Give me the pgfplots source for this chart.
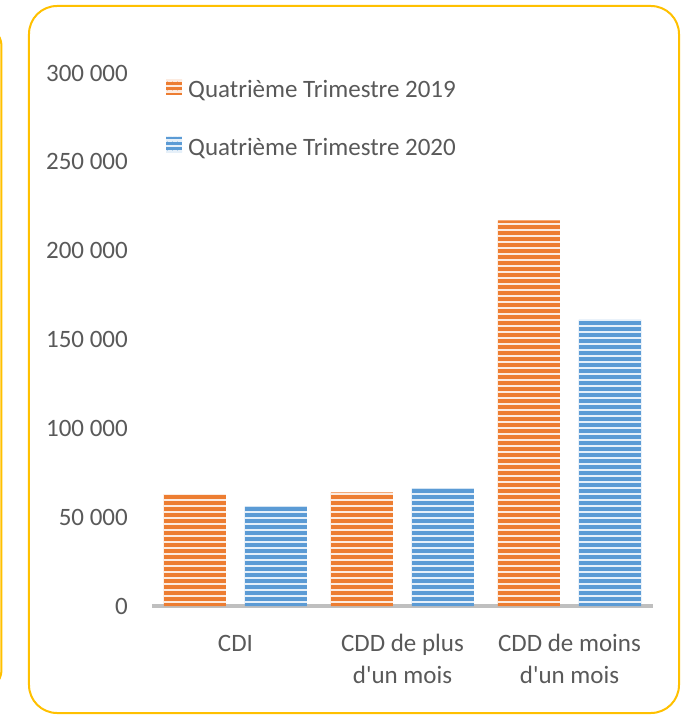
\documentclass[border=0pt]{standalone}
\usepackage{pgfplots}
\pgfplotsset{compat=1.18}
\usetikzlibrary{patterns.meta}
\usepackage{fontspec}
\setmainfont{Carlito}
\newfontfamily\carl{Carlito}
\definecolor{myorange}{HTML}{ED7D31}
\definecolor{myblue}{HTML}{5B9BD5}
\definecolor{txt}{HTML}{595959}
\definecolor{framec}{HTML}{FFC000}
\definecolor{axisgray}{HTML}{BFBFBF}
\begin{document}
\begin{tikzpicture}[x=1pt,y=1pt]
\begin{axis}[
  name=ax, at={(0,0)}, anchor=south west,
  scale only axis, width=501pt, height=533pt,
  ybar=19pt, bar width=62pt,
  ymin=0, ymax=300000, xmin=-0.5, xmax=2.5,
  scaled y ticks=false,
  axis x line*=bottom, axis y line*=left,
  x axis line style={axisgray, line width=3.5pt, -},
  y axis line style={draw=none},
  major tick length=0pt, tick style={draw=none},
  ytick={0,50000,100000,150000,200000,250000,300000},
  yticklabels={0,50 000,100 000,150 000,200 000,250 000,300 000},
  xtick={0,1,2},
  xticklabels={CDI\vphantom{dl},{CDD de plus\\d'un mois},{CDD de moins\\d'un mois}},
  tick label style={font=\carl\fontsize{25}{32}\selectfont, text=txt},
  yticklabel style={anchor=east, inner sep=0pt, xshift=-24pt},
  xticklabel style={align=center, anchor=north, inner sep=0pt, yshift=-28pt},
  legend style={draw=none, fill=none, font=\carl\fontsize{25}{30}\selectfont, text=txt,
    at={(axis description cs:0.028,0.99)}, anchor=north west,
    inner sep=0pt, nodes={inner sep=0pt}, row sep=38pt,
    /tikz/every odd column/.append style={column sep=6pt}},
  legend cell align=left,
]
\addplot[fill=myorange, draw=none,
  postaction={pattern={Lines[angle=0,distance=6pt,line width=2pt]}, pattern color=white!85!myorange},
  legend image code/.code={\path[fill=myorange, postaction={pattern={Lines[angle=0,distance=5pt,line width=1.6pt]}, pattern color=white!85!myorange}] (0pt,-5pt) rectangle (16pt,11pt);}]
  coordinates {(0,63000) (1,64000) (2,217000)};
\addlegendentry{Quatrième Trimestre 2019}
\addplot[fill=myblue, draw=none,
  postaction={pattern={Lines[angle=0,distance=6pt,line width=2pt]}, pattern color=white!85!myblue},
  legend image code/.code={\path[fill=myblue, postaction={pattern={Lines[angle=0,distance=5pt,line width=1.6pt]}, pattern color=white!85!myblue}] (0pt,-5pt) rectangle (16pt,11pt);}]
  coordinates {(0,56000) (1,66000) (2,161000)};
\addlegendentry{Quatrième Trimestre 2020}
\end{axis}
\begin{scope}[shift={(ax.south west)}, shift={(-152,-110)}]
\draw[framec, line width=2pt, rounded corners=28pt] (29,3) rectangle (679,710);
\draw[framec, line width=2pt, rounded corners=20pt] (-60,26) rectangle (1.5,690);
\pgfresetboundingbox
\path[use as bounding box] (0,0) rectangle (687,716);
\end{scope}
\end{tikzpicture}
\end{document}
